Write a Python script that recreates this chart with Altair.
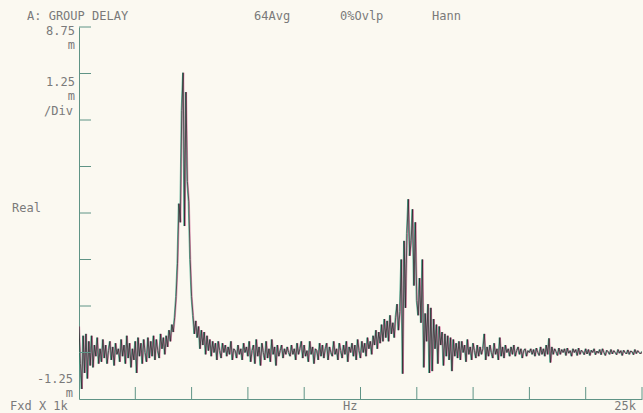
import altair as alt
import pandas as pd

# ---- data (group delay in m-units, 401 lines, 1k..25k) ----
f_start_khz = 1.0
f_step_khz = 0.06

gd_a = [0.70, -0.30, -0.98, 0.45, -0.55, 0.50, -0.70, 0.30, -0.35, 0.45,
        -0.40, 0.20, -0.10, 0.40, -0.30, 0.10, -0.25, 0.35, -0.15, 0.20,
        -0.30, 0.05, 0.30, -0.20, 0.15, -0.35, 0.25, -0.05, 0.10, -0.25,
        0.35, -0.10, 0.20, -0.30, 0.45, -0.15, 0.25, -0.40, 0.10, -0.20,
        0.30, -0.55, 0.40, -0.10, 0.25, -0.30, 0.35, 0.00, -0.25, 0.40,
        -0.15, 0.30, -0.10, 0.45, -0.20, 0.35, 0.05, -0.15, 0.50, 0.10,
        0.40, -0.05]
gd_peak1 = [0.45, 0.15, 0.60, 0.30, 0.75, 0.55, 0.95, 1.50, 2.40, 4.00,
            3.50, 6.50, 7.52, 3.40, 7.00, 4.60, 4.05, 2.50, 1.50, 1.00,
            0.50, 0.85]
gd_mid = [0.40, 0.70, 0.10, 0.60, 0.20, 0.55, -0.05, 0.45, 0.05, 0.35,
          -0.10, 0.30, 0.00, 0.25, -0.20, 0.30, 0.05, -0.15, 0.25, 0.00,
          0.20, -0.10, 0.15, -0.05, 0.30, -0.20, 0.10, 0.05, -0.15, 0.20,
          -0.05, 0.10, -0.20, 0.25, 0.00, 0.15, -0.10, 0.30, -0.25, 0.05,
          0.20, -0.30, 0.35, -0.10, 0.15, -0.35, 0.25, 0.00, -0.20, 0.30,
          -0.15, 0.10, -0.25, 0.35, -0.05, 0.15, -0.35, 0.20, -0.10, 0.05,
          0.20, -0.15, 0.10, -0.05, 0.15, 0.00, -0.10, 0.20, -0.05, 0.10,
          -0.20, 0.25, -0.05, 0.10, 0.30, -0.15, 0.20, -0.10, 0.05, -0.25,
          0.30, -0.05, 0.15, -0.30, 0.10, 0.05, -0.20, 0.25, -0.10, 0.20,
          -0.15, 0.10, 0.25, -0.20, 0.15, 0.00, -0.10, 0.30, -0.05, 0.10,
          -0.20, 0.25, 0.05, -0.15, 0.20, -0.05, 0.30, -0.25, 0.15, 0.00,
          0.25, -0.10, 0.20, -0.20, 0.35, 0.05, -0.15, 0.30, 0.00, 0.25,
          -0.10, 0.40, 0.10, 0.30, -0.05, 0.45]
gd_peak2 = [0.20, 0.60, 0.10, 0.55, 0.25, 0.75, 0.30, 0.90, 0.40, 0.85,
            0.30, 1.00, 0.50, 0.80, 0.40, 0.95, 1.30, 0.60, 1.10, 2.50,
            -0.57, 3.00, 1.20, 3.20, 4.12, 2.60, 3.00, 3.85, 1.80, 3.50,
            1.40, 1.00, 2.00, 0.80, 2.50, -0.40, 1.05, 0.30, 1.30, -0.55,
            1.20, -0.50, 0.90, 0.10, 0.75, -0.30, 0.70, 0.20, 0.55, -0.35,
            0.50, -0.10, 0.45, -0.20, 0.40, -0.50, 0.35, -0.10, 0.25, -0.15,
            0.30]
gd_tail1 = [-0.20, 0.30, 0.00, 0.20, -0.25, 0.35, -0.05, 0.15, -0.20, 0.25,
            0.05, -0.15, 0.20, -0.10, 0.15, -0.05, 0.10, 0.50, -0.20, 0.15,
            -0.10, 0.20, 0.00, -0.15, 0.25, -0.05, 0.10, -0.20, 0.40, -0.10,
            0.15, -0.15, 0.20, 0.00, 0.10, -0.10, 0.15, -0.05, 0.20, -0.10,
            0.05, 0.15, -0.05, 0.10, -0.15, 0.05, 0.10, -0.10, 0.05, 0.00]
gd_tail2 = [0.10, -0.05, 0.08, -0.10, 0.12, 0.00, -0.08, 0.15, -0.05, 0.10,
            -0.10, 0.20, -0.05, 0.38, -0.27, 0.15, -0.05, 0.10, 0.02, -0.08,
            0.12, -0.05, 0.08, 0.00, 0.10, -0.08, 0.12, -0.02, 0.05, -0.10,
            0.10, 0.00, 0.08, -0.08, 0.12, -0.05, 0.06, 0.02, -0.06, 0.10,
            -0.04, 0.08, -0.08, 0.06, 0.00, 0.10, -0.06, 0.04, -0.02, 0.08,
            -0.06, 0.10, 0.00, -0.08, 0.06, 0.02, -0.05, 0.08, -0.04, 0.05,
            0.00, -0.06, 0.08, -0.02, 0.05, -0.08, 0.06, 0.00, -0.04, 0.07,
            -0.05, 0.04, 0.02, -0.06, 0.08, -0.03, 0.05, 0.00, -0.04, 0.03]

y_ticks = [0.0, 1.25, 2.5, 3.75, 5.0, 6.25, 7.5, 8.75]
x_ticks = [3.4, 5.8, 8.2, 10.6, 13.0, 15.4, 17.8, 20.2, 22.6, 25.0]

gd = gd_a + gd_peak1 + gd_mid + gd_peak2 + gd_tail1 + gd_tail2
freq = [f_start_khz + f_step_khz * i for i in range(len(gd))]
trace = pd.DataFrame({"freq": freq, "gd": gd})

# ---- layout ----
W, H = 563, 372
LEFT, TOP = 79, 27
TEXT_COLOR = "#7a7a7a"
AXIS_COLOR = "#5f9486"
FONT = "DejaVu Sans Mono"
FS = 12

xs = alt.Scale(domain=[1, 25], nice=False, zero=False)
ys = alt.Scale(domain=[-1.25, 8.75], nice=False, zero=False)
x_enc = alt.X("freq:Q", scale=xs, axis=alt.Axis(labels=False, ticks=False, grid=False, title=None,
                                                 domainColor=AXIS_COLOR, domainWidth=1))
y_enc = alt.Y("gd:Q", scale=ys, axis=alt.Axis(labels=False, ticks=False, grid=False, title=None,
                                               domainColor=AXIS_COLOR, domainWidth=1))

base = alt.Chart(trace).encode(x=x_enc, y=y_enc)
green = base.mark_line(color="#2f9d7f", strokeWidth=0.9, opacity=0.8, xOffset=-0.6, clip=True)
pink = base.mark_line(color="#c84383", strokeWidth=0.9, opacity=0.6, xOffset=0.6, clip=True)
dark = base.mark_line(color="#202020", strokeWidth=0.8, opacity=0.85, clip=True)

ytick = alt.Chart(pd.DataFrame({"v": y_ticks})).mark_rule(color=AXIS_COLOR, strokeWidth=1).encode(
    y=alt.Y("v:Q", scale=ys), x=alt.value(0), x2=alt.value(12))
xtick = alt.Chart(pd.DataFrame({"v": x_ticks})).mark_rule(color=AXIS_COLOR, strokeWidth=1).encode(
    x=alt.X("v:Q", scale=xs), y=alt.value(H), y2=alt.value(H - 12))


def label(text, px, py, align="left"):
    return alt.Chart(pd.DataFrame({"t": [text]})).mark_text(
        font=FONT, fontSize=FS, color=TEXT_COLOR, align=align, baseline="alphabetic"
    ).encode(text="t:N", x=alt.value(px - LEFT), y=alt.value(py - TOP))


labels = [
    label("A: GROUP DELAY", 27, 20),
    label("64Avg", 254, 20),
    label("0%Ovlp", 340, 20),
    label("Hann", 432, 20),
    label("8.75", 75, 35, "right"),
    label("m", 75, 49, "right"),
    label("1.25", 75, 86, "right"),
    label("m", 75, 100, "right"),
    label("/Div", 73, 115, "right"),
    label("Real", 12, 212),
    label("-1.25", 73, 383, "right"),
    label("m", 73, 397, "right"),
    label("Fxd X 1k", 10, 410),
    label("Hz", 343, 410),
    label("25k", 636, 410, "right"),
]

chart = alt.layer(green, pink, dark, ytick, xtick, *labels).properties(
    width=W, height=H,
    autosize=alt.AutoSizeParams(type="none"),
    padding={"left": LEFT, "top": TOP, "right": 643 - LEFT - W, "bottom": 413 - TOP - H},
    background="#fbf9f1",
).configure_view(stroke=None)

chart.save("out.html", embed_options={"renderer": "svg", "actions": False})
